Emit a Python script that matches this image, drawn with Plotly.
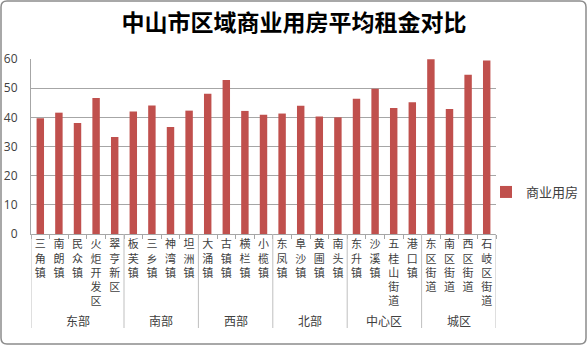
import plotly.graph_objects as go

# ---- data ----
towns = ["三角镇", "南朗镇", "民众镇", "火炬开发区", "翠亨新区",
         "板芙镇", "三乡镇", "神湾镇", "坦洲镇",
         "大涌镇", "古镇镇", "横栏镇", "小榄镇",
         "东凤镇", "阜沙镇", "黄圃镇", "南头镇",
         "东升镇", "沙溪镇", "五桂山街道", "港口镇",
         "东区街道", "南区街道", "西区街道", "石岐区街道"]
rent = [39.7, 41.6, 38.1, 46.6, 33.3,
        42.0, 44.1, 36.7, 42.3,
        48.1, 52.8, 42.2, 40.9,
        41.3, 44.0, 40.3, 40.0,
        46.4, 49.8, 43.2, 45.2,
        59.9, 42.9, 54.6, 59.5]
groups = ["东部", "南部", "西部", "北部", "中心区", "城区"]
group_sizes = [5, 4, 4, 4, 4, 4]
series_name = "商业用房"
title_text = "中山市区域商业用房平均租金对比"
y_ticks = [0, 10, 20, 30, 40, 50, 60]

# ---- layout geometry (pixels) ----
W, H = 588, 347
ML, MR, MT, MB = 31, 92, 59, 113
PW, PH = W - ML - MR, H - MT - MB

def px_x(p):  # pixel -> paper x
    return (p - ML) / PW

def px_y(p):  # pixel -> paper y
    return (H - MB - p) / PH

bar_color = "#C0504D"
text_color = "#404040"
grid_color = "#A6A6A6"
FONT = "Noto Sans CJK SC"
TICK_FONT = "Liberation Sans, Noto Sans CJK SC"

fig = go.Figure()
fig.add_trace(go.Bar(x=towns, y=rent, name=series_name,
                     marker=dict(color=bar_color, line=dict(width=0)),
                     showlegend=True))

annotations = []
shapes = []

# group labels and dividers
start = 0
bounds = [-0.5]
for g, n in zip(groups, group_sizes):
    center = start + (n - 1) / 2
    annotations.append(dict(x=center, xref="x", y=px_y(320), yref="paper",
                            text=g, showarrow=False, yanchor="middle",
                            font=dict(family=FONT, size=12, color=text_color)))
    start += n
    bounds.append(start - 0.5)
for b in bounds:
    shapes.append(dict(type="line", xref="x", yref="paper",
                       x0=b, x1=b, y0=0, y1=px_y(328),
                       line=dict(color="#BFBFBF", width=1)))

# chart border with rounded corners
x0, x1 = px_x(1), px_x(586)
y0, y1 = px_y(344), px_y(1)
rx, ry = 6 / PW, 6 / PH
border_path = (f"M{x0 + rx},{y1} L{x1 - rx},{y1} Q{x1},{y1} {x1},{y1 - ry} "
               f"L{x1},{y0 + ry} Q{x1},{y0} {x1 - rx},{y0} "
               f"L{x0 + rx},{y0} Q{x0},{y0} {x0},{y0 + ry} "
               f"L{x0},{y1 - ry} Q{x0},{y1} {x0 + rx},{y1} Z")
shapes.append(dict(type="path", xref="paper", yref="paper", path=border_path,
                   line=dict(color="#8C8C8C", width=1.5), layer="below"))

fig.update_layout(
    width=W, height=H,
    margin=dict(l=ML, r=MR, t=MT, b=MB, pad=0, autoexpand=False),
    paper_bgcolor="white", plot_bgcolor="white",
    title=dict(text=title_text, x=0.5, xref="container", xanchor="center",
               y=1 - 23 / H, yref="container", yanchor="middle",
               font=dict(family=FONT, size=23, color="#000000", weight="bold")),
    bargap=0.6,
    showlegend=True,
    legend=dict(x=px_x(486), y=px_y(192), xanchor="left", yanchor="middle",
                font=dict(family=FONT, size=13, color=text_color),
                itemwidth=30, bgcolor="rgba(0,0,0,0)"),
    annotations=annotations,
    shapes=shapes,
    font=dict(family=FONT, color=text_color),
)
fig.update_xaxes(type="category", categoryorder="array", categoryarray=towns,
                 tickvals=towns, ticktext=["<br>".join(t) for t in towns],
                 tickangle=0,
                 tickfont=dict(family=TICK_FONT, size=11, color=text_color),
                 showticklabels=True, showline=True, linecolor=grid_color,
                 linewidth=1, ticks="outside", tickson="boundaries",
                 ticklen=4, tickcolor=grid_color, showgrid=False,
                 range=[-0.5, len(towns) - 0.5])
fig.update_yaxes(range=[0, 60], tickvals=y_ticks, showgrid=True,
                 gridcolor=grid_color, gridwidth=1, showline=True,
                 linecolor=grid_color, zeroline=False,
                 tickfont=dict(family="Open Sans", size=12, color=text_color),
                 ticks="", ticklabelstandoff=10)

fig.write_html("out.html")
